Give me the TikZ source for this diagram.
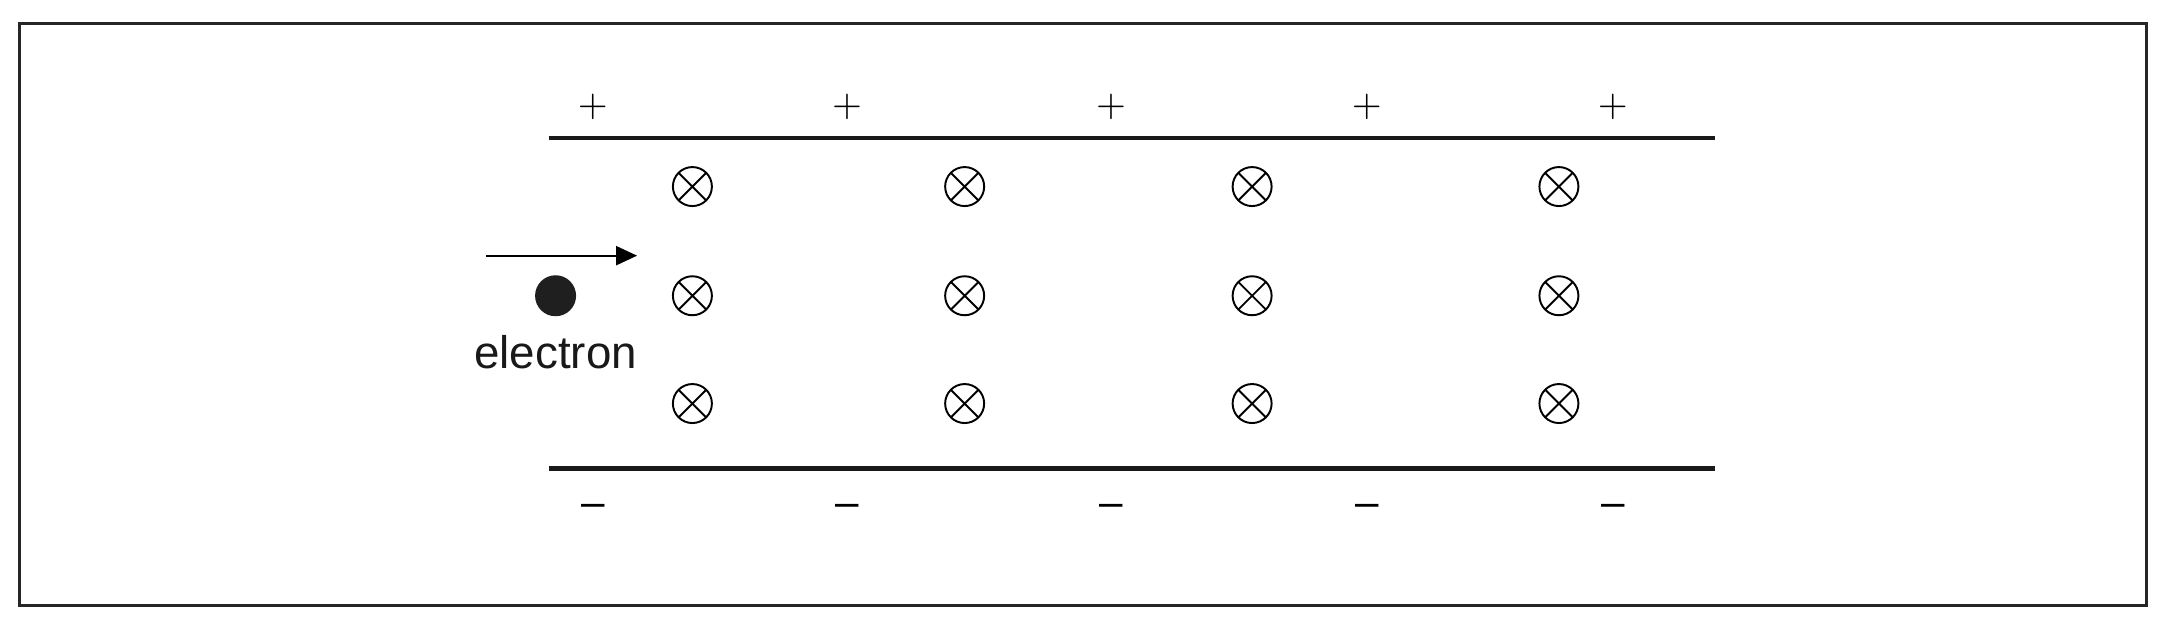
\documentclass[tikz,border=0pt]{standalone}
\usepackage{fontspec}
\setmainfont{Liberation Sans}
\usetikzlibrary{arrows.meta}
\tikzset{
  plate/.style={line width=1.3pt},
  possign/.style={font=\fontsize{10.5}{12}\selectfont, inner sep=0pt},
  negsign/.style={font=\fontsize{12}{14}\selectfont, inner sep=0pt},
  bin/.style={draw, circle, line width=0.55pt, minimum size=3.9mm, inner sep=0pt,
    path picture={\draw[line width=0.55pt]
      (path picture bounding box.north west) -- (path picture bounding box.south east)
      (path picture bounding box.north east) -- (path picture bounding box.south west);}},
  electron/.style={circle, fill=black!88, minimum size=4.1mm, inner sep=0pt},
}
\begin{document}
\begin{tikzpicture}[x=0.1382mm, y=-0.1382mm]
  \useasboundingbox (0,0) rectangle (1568,451);
  \draw[line width=0.7pt, black!85] (14,17) rectangle (1553,438);
  % plates
  \coordinate (tl) at (397,100);
  \coordinate (tr) at (1241,100);
  \coordinate (bl) at (397,339);
  \coordinate (br) at (1241,339);
  \draw[plate, black!90] (tl) -- (tr);
  \draw[plate, black!90] (bl) -- (br);
  % charges
  \draw
    (429,77) node[possign] (p1){$+$}
    (613,77) node[possign] (p2){$+$}
    (804,77) node[possign] (p3){$+$}
    (989,77) node[possign] (p4){$+$}
    (1167,77) node[possign] (p5){$+$}
    (429,369) node[negsign] (m1){\textendash}
    (613,369) node[negsign] (m2){\textendash}
    (804,369) node[negsign] (m3){\textendash}
    (989,369) node[negsign] (m4){\textendash}
    (1167,369) node[negsign] (m5){\textendash};
  % field into the page
  \draw
    (501,135) node[bin] (b11){}
    (698,135) node[bin] (b12){}
    (906,135) node[bin] (b13){}
    (1128,135) node[bin] (b14){}
    (501,214) node[bin] (b21){}
    (698,214) node[bin] (b22){}
    (906,214) node[bin] (b23){}
    (1128,214) node[bin] (b24){}
    (501,292) node[bin] (b31){}
    (698,292) node[bin] (b32){}
    (906,292) node[bin] (b33){}
    (1128,292) node[bin] (b34){};
  % electron
  \node[electron] (e) at (402,214) {};
  \node[font=\fontsize{13}{15}\selectfont, text=black!90] (elabel) at (402,255) {electron};
  \coordinate (v0) at (352,185);
  \coordinate (v1) at (461,185);
  \draw[line width=0.6pt, -{Triangle[length=2.1mm, width=1.9mm]}] (v0) -- (v1);
\end{tikzpicture}
\end{document}
